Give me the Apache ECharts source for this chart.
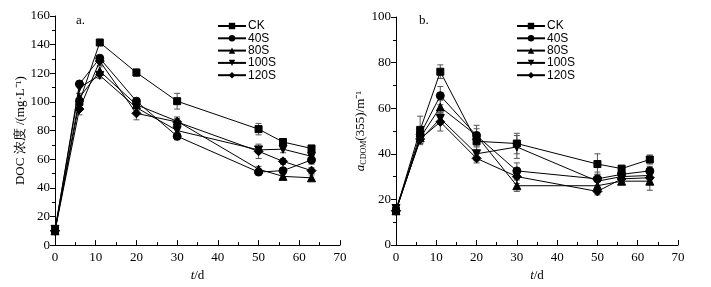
<!DOCTYPE html>
<html>
<head>
<meta charset="utf-8">
<script src="https://cdn.jsdelivr.net/npm/echarts@6/dist/echarts.min.js"></script>
<style>
  html, body { margin: 0; padding: 0; background: #fff; }
  #chart { width: 711px; height: 287px; }
</style>
</head>
<body>
<div id="chart"></div>
<script>
// 采样时间 t/d
const days = [0, 6, 11, 20, 30, 50, 56, 63];
const groups = ['CK', '40S', '80S', '100S', '120S'];

// DOC 浓度 (mg/L)
const docCK   = [10, 100, 141.5, 120.5, 100.5, 81, 72, 67.5];
const doc40S  = [10, 112.5, 130.5, 100.5, 76, 51, 52, 59.5];
const doc80S  = [10, 103, 121.5, 98, 86.5, 53, 48, 47];
const doc100S = [11, 110, 118.5, 96, 80, 66.5, 67, 62];
const doc120S = [10, 95, 128.5, 92, 86, 65.5, 58.5, 52];
const docErrCK   = [1, 3, 2, 2.5, 5.5, 4, 1.5, 2];
const docErr40S  = [1, 2, 2, 2, 2.5, 2, 1.5, 3];
const docErr80S  = [1, 3, 3, 2, 3, 2, 1.5, 2];
const docErr100S = [1, 4, 2, 2, 2.5, 2, 2.5, 2];
const docErr120S = [1, 4, 3, 4.5, 2.5, 5, 2, 2];

// a_CDOM(355) (m^-1)
const cdCK   = [15, 50.5, 76, 45.5, 44.5, 35.5, 33.5, 37.5];
const cd40S  = [15, 48.5, 65.5, 48, 32.5, 29, 31, 32.5];
const cd80S  = [15, 47, 60.5, 48, 26, 26, 28, 28];
const cd100S = [16, 46, 55.5, 40, 43, 28, 30, 30.5];
const cd120S = [15, 46.5, 54, 38, 30, 23.5, 29, 29.5];
const cdErrCK   = [1, 6, 3, 4, 4.5, 4.5, 1, 2];
const cdErr40S  = [1, 3, 4, 4.5, 3.5, 3, 1.5, 2];
const cdErr80S  = [1, 2.5, 3, 3, 2.5, 2, 1.5, 4];
const cdErr100S = [1, 2, 2.5, 3, 5, 3, 1.5, 2];
const cdErr120S = [1, 2, 4, 2, 3, 1.5, 1.5, 2];

const symbols = ['rect', 'circle', 'triangle', 'triangle', 'diamond'];
const rotates = [0, 0, 0, 180, 0];
const symSizes = [7, 8, 8, 8, 9];

const docData = [docCK, doc40S, doc80S, doc100S, doc120S];
const docErr = [docErrCK, docErr40S, docErr80S, docErr100S, docErr120S];
const cdData = [cdCK, cd40S, cd80S, cd100S, cd120S];
const cdErr = [cdErrCK, cdErr40S, cdErr80S, cdErr100S, cdErr120S];

const serif = 'Liberation Serif';
const sans = 'Liberation Sans';

function makeAxisX(gridIndex) {
  return {
    type: 'value', gridIndex: gridIndex, min: 0, max: 70, interval: 10,
    name: '{i|t}/d', nameLocation: 'middle', nameGap: 20,
    nameTextStyle: { fontFamily: serif, fontSize: 13, color: '#000',
      rich: { i: { fontFamily: serif, fontStyle: 'italic', fontSize: 13, color: '#000' } } },
    axisLine: { lineStyle: { color: '#000', width: 1 } },
    axisTick: { inside: true, length: 5, lineStyle: { color: '#000' } },
    minorTick: { show: true, splitNumber: 2, length: 3, lineStyle: { color: '#000' } },
    axisLabel: { fontFamily: serif, fontSize: 13, color: '#000', margin: 6 },
    splitLine: { show: false }
  };
}

function makeAxisY(gridIndex, max, interval, name, gap, rich) {
  return {
    type: 'value', gridIndex: gridIndex, min: 0, max: max, interval: interval,
    name: name, nameLocation: 'middle', nameGap: gap,
    nameTextStyle: { fontFamily: serif, fontSize: 13, color: '#000', rich: rich },
    axisLine: { show: true, lineStyle: { color: '#000', width: 1 } },
    axisTick: { show: true, inside: false, length: 5, lineStyle: { color: '#000' } },
    minorTick: { show: true, splitNumber: 2, length: 3, lineStyle: { color: '#000' } },
    axisLabel: { fontFamily: serif, fontSize: 13, color: '#000', margin: 5 },
    splitLine: { show: false }
  };
}

function errorSeries(idx, values, errs) {
  const data = days.map((d, i) => [d, values[i] - errs[i], values[i] + errs[i]]);
  return {
    type: 'custom', xAxisIndex: idx, yAxisIndex: idx, silent: true, z: 1,
    data: data,
    renderItem: function (params, api) {
      const lo = api.coord([api.value(0), api.value(1)]);
      const hi = api.coord([api.value(0), api.value(2)]);
      const w = 3;
      const st = { stroke: '#555', lineWidth: 1, fill: null };
      return {
        type: 'group',
        children: [
          { type: 'line', shape: { x1: hi[0], y1: hi[1], x2: lo[0], y2: lo[1] }, style: st },
          { type: 'line', shape: { x1: hi[0] - w, y1: hi[1], x2: hi[0] + w, y2: hi[1] }, style: st },
          { type: 'line', shape: { x1: lo[0] - w, y1: lo[1], x2: lo[0] + w, y2: lo[1] }, style: st }
        ]
      };
    }
  };
}

const series = [];
[docData, cdData].forEach(function (set, idx) {
  const errs = idx === 0 ? docErr : cdErr;
  set.forEach(function (vals, k) {
    series.push(errorSeries(idx, vals, errs[k]));
    series.push({
      name: groups[k], type: 'line', xAxisIndex: idx, yAxisIndex: idx, z: 3,
      data: days.map((d, i) => [d, vals[i]]),
      symbol: symbols[k], symbolRotate: rotates[k], symbolSize: symSizes[k],
      showAllSymbol: true,
      lineStyle: { color: '#000', width: 1 },
      itemStyle: { color: '#000', borderColor: '#000' },
      animation: false
    });
  });
});

const legendBase = {
  data: groups, orient: 'vertical', itemWidth: 28, itemHeight: 8, itemGap: 0.3,
  textStyle: { fontFamily: sans, fontSize: 12, color: '#000', lineHeight: 12, height: 12,
    padding: [0, 0, 0, -3] },
  padding: 0, selectedMode: false
};

const chart = echarts.init(document.getElementById('chart'), null, { renderer: 'canvas' });
chart.setOption({
  backgroundColor: '#fff',
  animation: false,
  grid: [
    { left: 55, top: 16, width: 285, height: 231 },
    { left: 396, top: 17, width: 282, height: 228 }
  ],
  xAxis: [makeAxisX(0), makeAxisX(1)],
  yAxis: [
    makeAxisY(0, 160, 20, 'DOC 浓度 /(mg·L⁻¹)', 27, {}),
    makeAxisY(1, 100, 20, '{i|a}{s|CDOM}(355)/m⁻¹', 22, {
      i: { fontFamily: serif, fontStyle: 'italic', fontSize: 13, color: '#000' },
      s: { fontFamily: serif, fontSize: 8, color: '#000', verticalAlign: 'bottom', padding: [6, 0, 0, 0] }
    })
  ],
  legend: [
    Object.assign({ left: 217, top: 20 }, legendBase),
    Object.assign({ left: 516, top: 20 }, legendBase)
  ],
  graphic: [
    { type: 'text', left: 76, top: 14, style: { text: 'a.', font: '13px "Liberation Serif"', fill: '#000' } },
    { type: 'text', left: 419, top: 14, style: { text: 'b.', font: '13px "Liberation Serif"', fill: '#000' } }
  ],
  series: series
});
</script>
</body>
</html>
